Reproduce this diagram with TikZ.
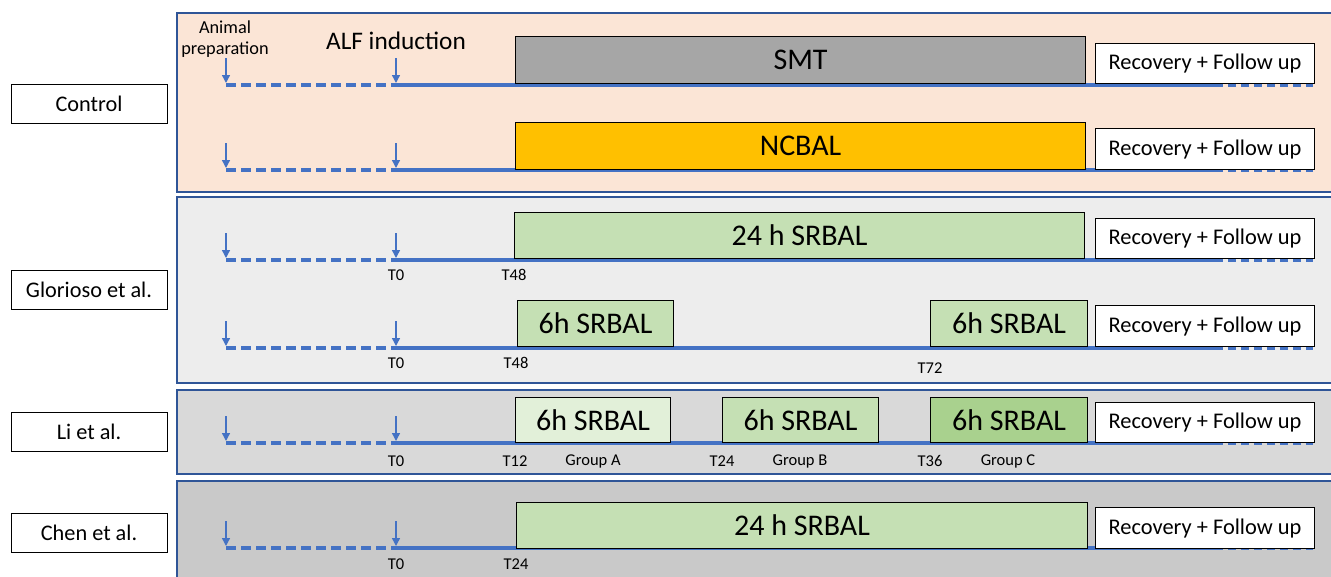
\documentclass[tikz,border=0pt]{standalone}
\usepackage{fontspec}
\setmainfont{Carlito}
\usetikzlibrary{arrows.meta}
\definecolor{peach}{HTML}{FBE5D6}
\definecolor{grayA}{HTML}{EDEDED}
\definecolor{grayB}{HTML}{D9D9D9}
\definecolor{grayC}{HTML}{C9C9C9}
\definecolor{frameblue}{HTML}{2F5597}
\definecolor{lineblue}{HTML}{4472C4}
\definecolor{smtgray}{HTML}{A6A6A6}
\definecolor{gold}{HTML}{FFC000}
\definecolor{greenL}{HTML}{E2F0D9}
\definecolor{greenM}{HTML}{C5E0B4}
\definecolor{greenD}{HTML}{A9D18E}
\newcommand\fs[1]{\fontsize{#1}{#1}\selectfont}
\tikzset{
  panel/.style={draw=frameblue, line width=1.4pt},
  grouplabel/.style={draw, fill=white, line width=1pt, minimum width=156, minimum height=39, inner sep=0pt, font=\fs{22.3}},
  phasebox/.style={draw, line width=1.1pt, inner sep=0pt, anchor=north west, font=\fs{30}},
  recbox/.style={draw, fill=white, line width=1.1pt, inner sep=0pt, anchor=north west, minimum width=219, font=\fs{22.4}},
  tick/.style={font=\fs{16.5}, inner sep=0pt},
  tlsolid/.style={draw=lineblue, line width=3.4pt},
  tlprep/.style={tlsolid, dash pattern=on 10pt off 5pt},
  tlfollow/.style={tlsolid, dash pattern=on 8pt off 5pt},
  marker/.style={draw=lineblue, line width=1.4pt, -{Triangle[width=8pt,length=8pt]}},
}
% one timeline: preparation (dashed), protocol (solid), follow-up (dashed)
\newcommand\timeline[2]{%
  \coordinate (#1a) at (226,#2);
  \coordinate (#1b) at (396,#2);
  \coordinate (#1c) at (1215,#2);
  \coordinate (#1d) at (1313,#2);
  \coordinate (#1p) at (226,#2-27);
  \coordinate (#1q) at (396,#2-27);
  \coordinate (#1pe) at (226,#2-2);
  \coordinate (#1qe) at (396,#2-2);
  \path[tlprep] (#1a) -- (#1b);
  \path[tlsolid] (#1b) -- (#1c);
  \path[tlfollow] (#1c) -- (#1d);
  \path[marker] (#1p) -- (#1pe);
  \path[marker] (#1q) -- (#1qe);
}
\begin{document}
\begin{tikzpicture}[x=1pt,y=-1pt]
\path[use as bounding box, clip] (0,0) rectangle (1331,576);
\fill[white] (0,0) rectangle (1331,576);

% panels
\filldraw[panel, fill=peach] (177,13) rectangle (1345,192);
\filldraw[panel, fill=grayA] (177,197) rectangle (1345,383);
\filldraw[panel, fill=grayB] (177,390) rectangle (1345,474);
\filldraw[panel, fill=grayC] (177,481) rectangle (1345,590);

% group labels
\node[grouplabel] (gControl) at (89,103.5) {Control};
\node[grouplabel] (gGlorioso) at (89,290) {Glorioso et al.};
\node[grouplabel] (gLi) at (89,432) {Li et al.};
\node[grouplabel] (gChen) at (89,532.5) {Chen et al.};

% header
\node[font=\fs{18.3}, align=center, inner sep=0pt] (prep) at (225,39) {Animal\\[2pt]preparation};
\node[font=\fs{25.3}, inner sep=0pt] (alf) at (396,41) {ALF induction};

% timelines
\timeline{r1}{85}
\timeline{r2}{170}
\timeline{r3}{260}
\timeline{r4}{348}
\timeline{r5}{443}
\timeline{r6}{548}

% control rows
\node[phasebox, fill=smtgray, minimum width=570, minimum height=47] (smt) at (515,36) {SMT};
\node[recbox, minimum height=40] (rec1) at (1095,43) {Recovery + Follow up};
\node[phasebox, fill=gold, minimum width=570, minimum height=47] (ncbal) at (515,122) {NCBAL};
\node[recbox, minimum height=41] (rec2) at (1095,128) {Recovery + Follow up};

% Glorioso et al.
\node[phasebox, fill=greenM, minimum width=570, minimum height=46] (g24) at (514,212) {24 h SRBAL};
\node[recbox, minimum height=40] (rec3) at (1095,218) {Recovery + Follow up};
\node[tick] (g1t0) at (396,275) {T0};
\node[tick] (g1t48) at (514,275) {T48};
\node[phasebox, fill=greenM, minimum width=156, minimum height=46] (g6a) at (517,300) {6h SRBAL};
\node[phasebox, fill=greenM, minimum width=157, minimum height=46] (g6b) at (930,300) {6h SRBAL};
\node[recbox, minimum height=41] (rec4) at (1095,305) {Recovery + Follow up};
\node[tick] (g2t0) at (396,363) {T0};
\node[tick] (g2t48) at (516,363) {T48};
\node[tick] (g2t72) at (930,368) {T72};

% Li et al.
\node[phasebox, fill=greenL, minimum width=155, minimum height=45] (liA) at (515,397) {6h SRBAL};
\node[phasebox, fill=greenM, minimum width=156, minimum height=45] (liB) at (722,397) {6h SRBAL};
\node[phasebox, fill=greenD, minimum width=157, minimum height=45] (liC) at (930,397) {6h SRBAL};
\node[recbox, minimum height=40] (rec5) at (1095,402) {Recovery + Follow up};
\node[tick] (lt0) at (396,461) {T0};
\node[tick] (lt12) at (515,461) {T12};
\node[tick] (ga) at (593,461) {Group A};
\node[tick] (lt24) at (722,461) {T24};
\node[tick] (gb) at (800,461) {Group B};
\node[tick] (lt36) at (930,461) {T36};
\node[tick] (gc) at (1008,461) {Group C};

% Chen et al.
\node[phasebox, fill=greenM, minimum width=571, minimum height=46] (c24) at (516,502) {24 h SRBAL};
\node[recbox, minimum height=41] (rec6) at (1095,507) {Recovery + Follow up};
\node[tick] (ct0) at (396,564) {T0};
\node[tick] (ct24) at (516,564) {T24};
\end{tikzpicture}
\end{document}
